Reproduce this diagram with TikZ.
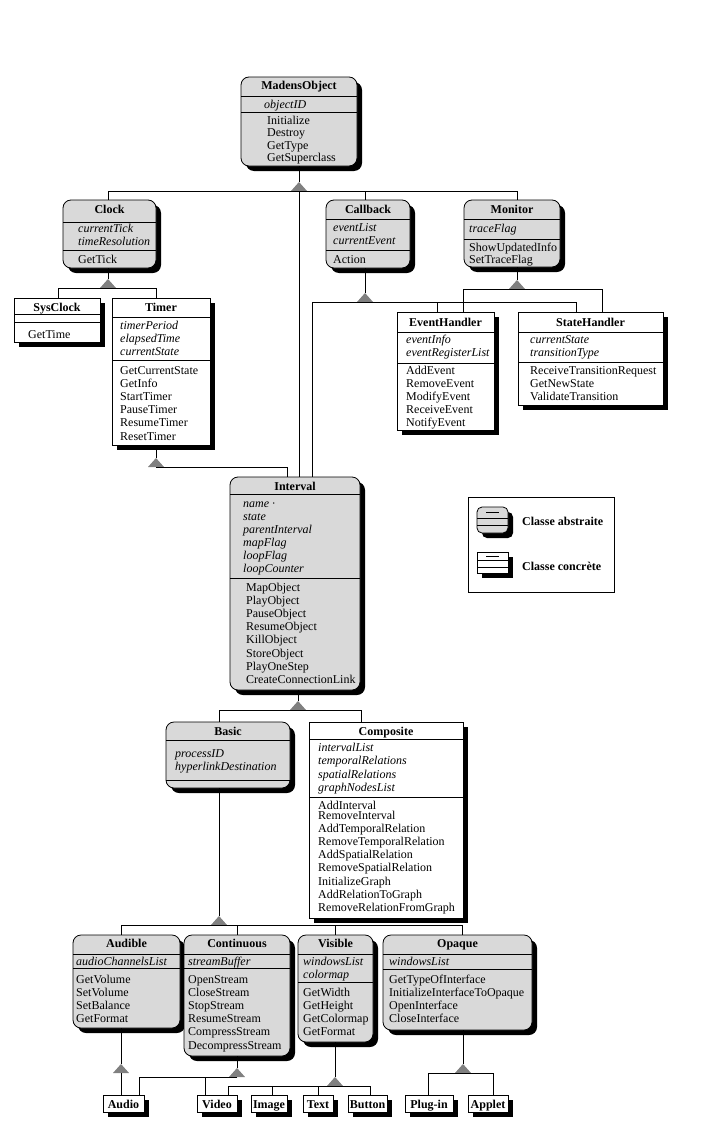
\documentclass[tikz,border=0pt]{standalone}
\usepackage{fontspec}
\setmainfont{Liberation Serif}
\usetikzlibrary{shadows}
\definecolor{absgray}{RGB}{217,217,217}
\definecolor{trigray}{RGB}{128,128,128}
\tikzset{
  shad/.style={drop shadow={shadow xshift=5pt, shadow yshift=-5pt, fill=black, opacity=1}},
  absbox/.style={draw, line width=0.8pt, fill=absgray, rounded corners=8pt, inner sep=0pt, outer sep=0pt, shad},
  concbox/.style={draw, line width=0.8pt, fill=white, inner sep=0pt, outer sep=0pt, shad},
  ttlstyle/.style={anchor=base, inner sep=0pt, font=\fontsize{12}{13}\selectfont\bfseries},
  attr/.style={anchor=base west, inner sep=0pt, font=\fontsize{12}{13}\selectfont\itshape},
  meth/.style={anchor=base west, inner sep=0pt, font=\fontsize{12}{13}\selectfont},
  link/.style={line width=0.8pt},
  sepline/.style={line width=0.8pt},
}
\newcommand\umlbox[6]{\node[#2, anchor=north west, minimum width={#5pt-#3pt}, minimum height={#6pt-#4pt}] (#1) at (#3,#4) {};}
\newcommand\sepat[2]{\draw[sepline] (#1.west |- 0,#2) -- (#1.east |- 0,#2);}
\newcommand\ttlat[3]{\node[ttlstyle] (#1-t) at (#1.center |- 0,#3) {#2};}
\newcommand\linesat[6]{\foreach \t [count=\i] in {#6} {\node[#2] (#1\i) at (#3,{#4+#5*(\i-1)}) {\t};}}
\newcommand\trian[3]{\coordinate (#1) at (#2,#3);\coordinate (#1-b) at (#2,{#3+9});
  \fill[trigray] (#1) -- ++(-8,9) -- ++(16,0) -- cycle;}
\begin{document}
\begin{tikzpicture}[x=1pt,y=-1pt]
\fill[white] (0,0) rectangle (717,1132);
\useasboundingbox (0,0) rectangle (717,1132);

% MadensObject
\umlbox{madens}{absbox}{241}{77}{357}{166}
\ttlat{madens}{MadensObject}{89}
\sepat{madens}{96}\sepat{madens}{112}
\linesat{madens-a}{attr}{264}{108}{13}{objectID}
\linesat{madens-m}{meth}{267}{124.5}{12.4}{Initialize,Destroy,GetType,GetSuperclass}

% Clock
\umlbox{clock}{absbox}{63}{200}{156}{268}
\ttlat{clock}{Clock}{213}
\sepat{clock}{222}\sepat{clock}{250}
\linesat{clock-a}{attr}{78}{232}{13}{currentTick,timeResolution}
\linesat{clock-m}{meth}{78}{263}{13}{GetTick}

% Callback
\umlbox{callback}{absbox}{326}{200}{410}{268}
\ttlat{callback}{Callback}{213}
\sepat{callback}{219}\sepat{callback}{250}
\linesat{callback-a}{attr}{333}{231}{13}{eventList,currentEvent}
\linesat{callback-m}{meth}{333}{263}{13}{Action}

% Monitor
\umlbox{monitor}{absbox}{464}{200}{560}{267}
\ttlat{monitor}{Monitor}{213}
\sepat{monitor}{219}\sepat{monitor}{239}
\linesat{monitor-a}{attr}{469}{232}{13}{traceFlag}
\linesat{monitor-m}{meth}{469}{251}{12.5}{ShowUpdatedInfo,SetTraceFlag}

% SysClock
\umlbox{sysclock}{concbox}{14}{298}{100}{342}
\ttlat{sysclock}{SysClock}{311}
\sepat{sysclock}{314}\sepat{sysclock}{322}
\linesat{sysclock-m}{meth}{28}{338}{13}{GetTime}

% Timer
\umlbox{timer}{concbox}{112}{298}{210}{445}
\ttlat{timer}{Timer}{311}
\sepat{timer}{317}\sepat{timer}{360}
\linesat{timer-a}{attr}{120}{329}{13}{timerPeriod,elapsedTime,currentState}
\linesat{timer-m}{meth}{120}{374}{13.2}{GetCurrentState,GetInfo,StartTimer,PauseTimer,ResumeTimer,ResetTimer}

% EventHandler
\umlbox{eventhandler}{concbox}{397}{312}{494}{430}
\ttlat{eventhandler}{EventHandler}{326}
\sepat{eventhandler}{332}\sepat{eventhandler}{363}
\linesat{eventhandler-a}{attr}{406}{343}{13}{eventInfo,eventRegisterList}
\linesat{eventhandler-m}{meth}{406}{374}{13}{AddEvent,RemoveEvent,ModifyEvent,ReceiveEvent,NotifyEvent}

% StateHandler
\umlbox{statehandler}{concbox}{518}{312}{663}{405}
\ttlat{statehandler}{StateHandler}{326}
\sepat{statehandler}{332}\sepat{statehandler}{362}
\linesat{statehandler-a}{attr}{530}{343}{13}{currentState,transitionType}
\linesat{statehandler-m}{meth}{530}{374}{13}{ReceiveTransitionRequest,GetNewState,ValidateTransition}

% Interval
\umlbox{interval}{absbox}{230}{477}{360}{690}
\ttlat{interval}{Interval}{490}
\sepat{interval}{494}\sepat{interval}{578}
\linesat{interval-a}{attr}{243}{507}{13}{name ·,state,parentInterval,mapFlag,loopFlag,loopCounter}
\linesat{interval-m}{meth}{246}{591}{13.2}{MapObject,PlayObject,PauseObject,ResumeObject,KillObject,StoreObject,PlayOneStep,CreateConnectionLink}

% Legend
\node[draw, line width=0.6pt, fill=white, inner sep=0pt, anchor=north west, minimum width=146pt, minimum height=95pt] (legend) at (468,497) {};
\umlbox{legabs}{absbox, rounded corners=5pt}{477}{507}{508}{533}
\draw[sepline] (486,512) -- (499,512);
\sepat{legabs}{518}\sepat{legabs}{525}
\umlbox{legconc}{concbox}{477}{552}{508}{573}
\draw[sepline] (486,556) -- (499,556);
\sepat{legconc}{560}\sepat{legconc}{567}
\node[anchor=base west, inner sep=0pt, font=\fontsize{12}{13}\selectfont\bfseries] (leg-a) at (522,525) {Classe abstraite};
\node[anchor=base west, inner sep=0pt, font=\fontsize{12}{13}\selectfont\bfseries] (leg-c) at (522,570) {Classe concrète};

% Basic
\umlbox{basic}{absbox}{166}{722}{290}{788}
\ttlat{basic}{Basic}{735}
\sepat{basic}{740}\sepat{basic}{780}
\linesat{basic-a}{attr}{175}{757}{13}{processID,hyperlinkDestination}

% Composite
\umlbox{composite}{concbox}{309}{722}{463}{918}
\ttlat{composite}{Composite}{735}
\sepat{composite}{739}\sepat{composite}{797}
\linesat{composite-a}{attr}{318}{751}{13.5}{intervalList,temporalRelations,spatialRelations,graphNodesList}
\linesat{composite-m}{meth}{318}{809}{10}{AddInterval,RemoveInterval}
\linesat{composite-n}{meth}{318}{832}{13.3}{AddTemporalRelation,RemoveTemporalRelation,AddSpatialRelation,RemoveSpatialRelation,InitializeGraph,AddRelationToGraph,RemoveRelationFromGraph}

% Audible
\umlbox{audible}{absbox}{73}{935}{180}{1028}
\ttlat{audible}{Audible}{947}
\sepat{audible}{954}\sepat{audible}{968}
\linesat{audible-a}{attr}{76}{965}{13}{audioChannelsList}
\linesat{audible-m}{meth}{76}{983}{13}{GetVolume,SetVolume,SetBalance,GetFormat}

% Continuous
\umlbox{continuous}{absbox}{184}{935}{290}{1056}
\ttlat{continuous}{Continuous}{947}
\sepat{continuous}{954}\sepat{continuous}{968}
\linesat{continuous-a}{attr}{188}{965}{13}{streamBuffer}
\linesat{continuous-m}{meth}{188}{983}{13.2}{OpenStream,CloseStream,StopStream,ResumeStream,CompressStream,DecompressStream}

% Visible
\umlbox{visible}{absbox}{298}{935}{373}{1042}
\ttlat{visible}{Visible}{947}
\sepat{visible}{954}\sepat{visible}{982}
\linesat{visible-a}{attr}{303}{965}{13}{windowsList,colormap}
\linesat{visible-m}{meth}{303}{996}{13.2}{GetWidth,GetHeight,GetColormap,GetFormat}

% Opaque
\umlbox{opaque}{absbox}{383}{935}{532}{1030}
\ttlat{opaque}{Opaque}{947}
\sepat{opaque}{954}\sepat{opaque}{969}
\linesat{opaque-a}{attr}{389}{965}{13}{windowsList}
\linesat{opaque-m}{meth}{389}{983}{13.2}{GetTypeOfInterface,InitializeInterfaceToOpaque,OpenInterface,CloseInterface}

% Leaves
\umlbox{audio}{concbox}{103}{1095}{144}{1112}\ttlat{audio}{Audio}{1108}
\umlbox{video}{concbox}{197}{1095}{237}{1112}\ttlat{video}{Video}{1108}
\umlbox{image}{concbox}{251}{1095}{287}{1112}\ttlat{image}{Image}{1108}
\umlbox{textc}{concbox}{303}{1095}{333}{1112}\ttlat{textc}{Text}{1108}
\umlbox{button}{concbox}{348}{1095}{387}{1112}\ttlat{button}{Button}{1108}
\umlbox{plugin}{concbox}{405}{1095}{453}{1112}\ttlat{plugin}{Plug-in}{1108}
\umlbox{applet}{concbox}{468}{1095}{508}{1112}\ttlat{applet}{Applet}{1108}

% Connectors
\trian{t-mad}{299}{182}
\draw[link] (t-mad |- madens.south) -- (t-mad);
\draw[link] (t-mad-b) -| ([xshift=-1.5pt]clock.north);
\draw[link] (t-mad-b) -| ([xshift=-3pt]callback.north);
\draw[link] (t-mad-b) -| ([xshift=5pt]monitor.north);
\draw[link] (t-mad-b) -- (t-mad-b |- interval.north);

\trian{t-clk}{108}{279}
\draw[link] (t-clk |- clock.south) -- (t-clk);
\draw[link] (t-clk-b) -| ([xshift=1pt]sysclock.north);
\draw[link] (t-clk-b) -| ([xshift=-5pt]timer.north);

\trian{t-cb}{365}{293}
\draw[link] (t-cb |- callback.south) -- (t-cb);
\draw[link] (t-cb-b) -| ([xshift=17pt]interval.north);
\draw[link] (t-cb-b) -| ([xshift=-8.5pt]eventhandler.north);
\draw[link] (t-cb-b) -| ([xshift=-14.5pt]statehandler.north);

\trian{t-mon}{517}{280}
\draw[link] (t-mon |- monitor.south) -- (t-mon);
\draw[link] (t-mon-b) -| ([xshift=17.5pt]eventhandler.north);
\draw[link] (t-mon-b) -| ([xshift=11.5pt]statehandler.north);

\trian{t-tim}{156}{458}
\draw[link] (t-tim |- timer.south) -- (t-tim);
\draw[link] (t-tim-b) -| ([xshift=-8pt]interval.north);

\trian{t-int}{298}{701}
\draw[link] (t-int |- interval.south) -- (t-int);
\draw[link] (t-int-b) -| ([xshift=-9pt]basic.north);
\draw[link] (t-int-b) -| ([xshift=-25pt]composite.north);

\trian{t-bas}{219}{916}
\draw[link] (t-bas |- basic.south) -- (t-bas);
\draw[link] (t-bas-b) -| ([xshift=-5.5pt]audible.north);
\draw[link] (t-bas-b) -| (continuous.north);
\draw[link] (t-bas-b) -| ([xshift=-0.5pt]visible.north);
\draw[link] (t-bas-b) -| ([xshift=4.5pt]opaque.north);

\trian{t-aud}{121}{1064}
\draw[link] (t-aud |- audible.south) -- (t-aud);
\draw[link] (t-aud-b) -- (t-aud-b |- audio.north);

\trian{t-con}{237}{1068}
\draw[link] (t-con |- continuous.south) -- (t-con);
\draw[link] (t-con-b) -| ([xshift=15.5pt]audio.north);
\draw[link] (t-con-b) -| ([xshift=-12pt]video.north);

\trian{t-vis}{335}{1077}
\draw[link] (t-vis |- visible.south) -- (t-vis);
\draw[link] (t-vis-b) -| ([xshift=11pt]video.north);
\draw[link] (t-vis-b) -| ([xshift=3pt]image.north);
\draw[link] (t-vis-b) -| (textc.north);
\draw[link] (t-vis-b) -| ([xshift=2.5pt]button.north);

\trian{t-opq}{463}{1064}
\draw[link] (t-opq |- opaque.south) -- (t-opq);
\draw[link] (t-opq-b) -| ([xshift=-1pt]plugin.north);
\draw[link] (t-opq-b) -| ([xshift=5pt]applet.north);
\end{tikzpicture}
\end{document}
